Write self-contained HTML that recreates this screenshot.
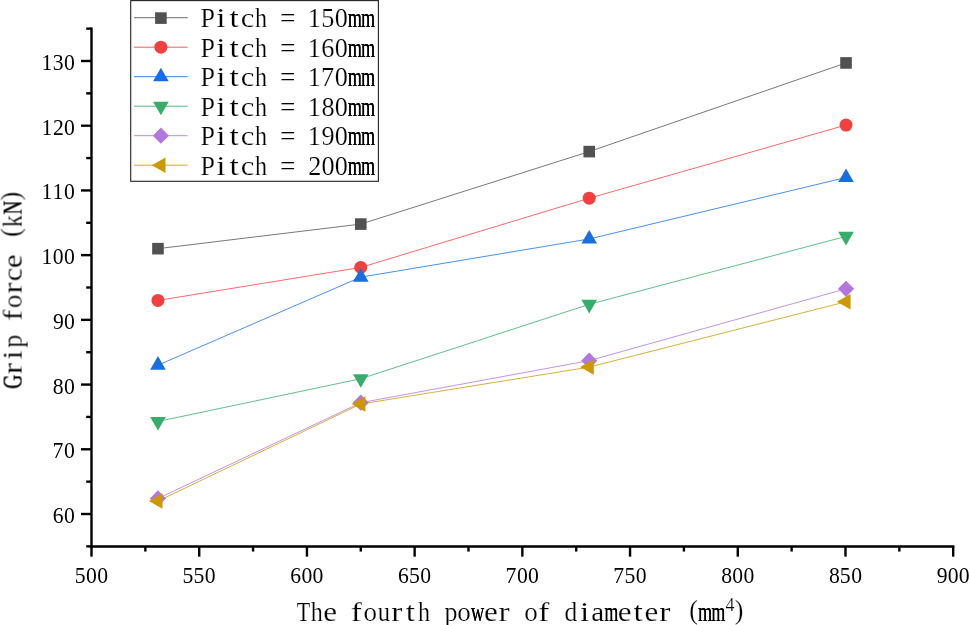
<!DOCTYPE html>
<html><head><meta charset="utf-8"><title>Grip force chart</title>
<style>html,body{margin:0;padding:0;background:#fff;}svg{display:block;}text{font-family:"Liberation Serif",serif;fill:#000;text-anchor:start;stroke:#fff;stroke-width:0.18px;}text.n{stroke:none;}</style></head><body>
<svg width="969" height="625" viewBox="0 0 969 625">
<rect width="969" height="625" fill="#fff"/>
<g style="will-change:transform">
<polyline points="157.96,248.67 360.78,224.08 589.24,151.6 846.03,62.94" fill="none" stroke="#515151" stroke-width="0.78"/>
<polyline points="157.96,300.44 360.78,267.44 589.24,198.19 846.03,125.07" fill="none" stroke="#F14040" stroke-width="0.78"/>
<polyline points="157.96,365.16 360.78,277.15 589.24,238.96 846.03,177.49" fill="none" stroke="#1A6FDF" stroke-width="0.78"/>
<polyline points="157.96,421.46 360.78,378.75 589.24,304.33 846.03,236.38" fill="none" stroke="#37AD6B" stroke-width="0.78"/>
<polyline points="157.96,498.47 360.78,402.69 589.24,360.63 846.03,288.79" fill="none" stroke="#B177DE" stroke-width="0.78"/>
<polyline points="157.96,501.06 360.78,403.99 589.24,367.1 846.03,301.74" fill="none" stroke="#CC9900" stroke-width="0.78"/>
<rect x="152.16" y="242.87" width="11.6" height="11.6" fill="#515151"/>
<rect x="354.98" y="218.28" width="11.6" height="11.6" fill="#515151"/>
<rect x="583.44" y="145.8" width="11.6" height="11.6" fill="#515151"/>
<rect x="840.23" y="57.14" width="11.6" height="11.6" fill="#515151"/>
<circle cx="157.96" cy="300.44" r="6.5" fill="#F14040"/>
<circle cx="360.78" cy="267.44" r="6.5" fill="#F14040"/>
<circle cx="589.24" cy="198.19" r="6.5" fill="#F14040"/>
<circle cx="846.03" cy="125.07" r="6.5" fill="#F14040"/>
<path d="M157.96 356.09L165.76 369.69L150.16 369.69Z" fill="#1A6FDF"/>
<path d="M360.78 268.08L368.58 281.68L352.98 281.68Z" fill="#1A6FDF"/>
<path d="M589.24 229.9L597.04 243.5L581.44 243.5Z" fill="#1A6FDF"/>
<path d="M846.03 168.42L853.83 182.02L838.23 182.02Z" fill="#1A6FDF"/>
<path d="M157.96 430.53L165.76 416.93L150.16 416.93Z" fill="#37AD6B"/>
<path d="M360.78 387.81L368.58 374.21L352.98 374.21Z" fill="#37AD6B"/>
<path d="M589.24 313.39L597.04 299.79L581.44 299.79Z" fill="#37AD6B"/>
<path d="M846.03 245.44L853.83 231.84L838.23 231.84Z" fill="#37AD6B"/>
<path d="M157.96 490.37L166.06 498.47L157.96 506.57L149.86 498.47Z" fill="#B177DE"/>
<path d="M360.78 394.59L368.88 402.69L360.78 410.79L352.68 402.69Z" fill="#B177DE"/>
<path d="M589.24 352.53L597.34 360.63L589.24 368.73L581.14 360.63Z" fill="#B177DE"/>
<path d="M846.03 280.69L854.13 288.79L846.03 296.89L837.93 288.79Z" fill="#B177DE"/>
<path d="M148.83 501.06L162.53 493.36L162.53 508.76Z" fill="#CC9900"/>
<path d="M351.65 403.99L365.35 396.29L365.35 411.69Z" fill="#CC9900"/>
<path d="M580.11 367.1L593.81 359.4L593.81 374.8Z" fill="#CC9900"/>
<path d="M836.89 301.74L850.59 294.04L850.59 309.44Z" fill="#CC9900"/>
<g stroke="#000" stroke-width="2.4" fill="none">
<line x1="91.5" y1="27.44" x2="91.5" y2="547.56"/>
<line x1="90.3" y1="546.51" x2="954.4" y2="546.51" stroke-width="2.7"/>
<line x1="86.2" y1="546.36" x2="91.5" y2="546.36"/>
<line x1="81" y1="514" x2="91.5" y2="514"/>
<line x1="86.2" y1="481.64" x2="91.5" y2="481.64"/>
<line x1="81" y1="449.29" x2="91.5" y2="449.29"/>
<line x1="86.2" y1="416.93" x2="91.5" y2="416.93"/>
<line x1="81" y1="384.57" x2="91.5" y2="384.57"/>
<line x1="86.2" y1="352.21" x2="91.5" y2="352.21"/>
<line x1="81" y1="319.86" x2="91.5" y2="319.86"/>
<line x1="86.2" y1="287.5" x2="91.5" y2="287.5"/>
<line x1="81" y1="255.14" x2="91.5" y2="255.14"/>
<line x1="86.2" y1="222.79" x2="91.5" y2="222.79"/>
<line x1="81" y1="190.43" x2="91.5" y2="190.43"/>
<line x1="86.2" y1="158.07" x2="91.5" y2="158.07"/>
<line x1="81" y1="125.71" x2="91.5" y2="125.71"/>
<line x1="86.2" y1="93.36" x2="91.5" y2="93.36"/>
<line x1="81" y1="61" x2="91.5" y2="61"/>
<line x1="86.2" y1="28.64" x2="91.5" y2="28.64"/>
<line x1="91.5" y1="546.36" x2="91.5" y2="556.66"/>
<line x1="145.36" y1="546.36" x2="145.36" y2="551.56"/>
<line x1="199.21" y1="546.36" x2="199.21" y2="556.66"/>
<line x1="253.07" y1="546.36" x2="253.07" y2="551.56"/>
<line x1="306.93" y1="546.36" x2="306.93" y2="556.66"/>
<line x1="360.78" y1="546.36" x2="360.78" y2="551.56"/>
<line x1="414.64" y1="546.36" x2="414.64" y2="556.66"/>
<line x1="468.49" y1="546.36" x2="468.49" y2="551.56"/>
<line x1="522.35" y1="546.36" x2="522.35" y2="556.66"/>
<line x1="576.21" y1="546.36" x2="576.21" y2="551.56"/>
<line x1="630.06" y1="546.36" x2="630.06" y2="556.66"/>
<line x1="683.92" y1="546.36" x2="683.92" y2="551.56"/>
<line x1="737.77" y1="546.36" x2="737.77" y2="556.66"/>
<line x1="791.63" y1="546.36" x2="791.63" y2="551.56"/>
<line x1="845.49" y1="546.36" x2="845.49" y2="556.66"/>
<line x1="899.34" y1="546.36" x2="899.34" y2="551.56"/>
<line x1="953.2" y1="546.36" x2="953.2" y2="556.66"/>
</g>
<g>
<text class="n" transform="translate(52.73 523) scale(0.98 1.02)" font-size="22.14">6</text>
<text class="n" transform="translate(63.94 523) scale(0.98 1.02)" font-size="22.14">0</text>
<text class="n" transform="translate(52.47 458.29) scale(0.98 1.02)" font-size="22.14">7</text>
<text class="n" transform="translate(63.94 458.29) scale(0.98 1.02)" font-size="22.14">0</text>
<text class="n" transform="translate(52.87 393.57) scale(0.98 1.02)" font-size="22.14">8</text>
<text class="n" transform="translate(63.94 393.57) scale(0.98 1.02)" font-size="22.14">0</text>
<text class="n" transform="translate(52.97 328.86) scale(0.98 1.02)" font-size="22.14">9</text>
<text class="n" transform="translate(63.94 328.86) scale(0.98 1.02)" font-size="22.14">0</text>
<text class="n" transform="translate(41.5 264.14) scale(0.98 1.02)" font-size="22.14">1</text>
<text class="n" transform="translate(52.87 264.14) scale(0.98 1.02)" font-size="22.14">0</text>
<text class="n" transform="translate(63.94 264.14) scale(0.98 1.02)" font-size="22.14">0</text>
<text class="n" transform="translate(41.5 199.43) scale(0.98 1.02)" font-size="22.14">1</text>
<text class="n" transform="translate(52.57 199.43) scale(0.98 1.02)" font-size="22.14">1</text>
<text class="n" transform="translate(63.94 199.43) scale(0.98 1.02)" font-size="22.14">0</text>
<text class="n" transform="translate(41.5 134.71) scale(0.98 1.02)" font-size="22.14">1</text>
<text class="n" transform="translate(52.99 134.71) scale(0.98 1.02)" font-size="22.14">2</text>
<text class="n" transform="translate(63.94 134.71) scale(0.98 1.02)" font-size="22.14">0</text>
<text class="n" transform="translate(41.5 70) scale(0.98 1.02)" font-size="22.14">1</text>
<text class="n" transform="translate(52.78 70) scale(0.98 1.02)" font-size="22.14">3</text>
<text class="n" transform="translate(63.94 70) scale(0.98 1.02)" font-size="22.14">0</text>
<text class="n" transform="translate(74.8 582.65) scale(0.98 1.02)" font-size="22.14">5</text>
<text class="n" transform="translate(86.08 582.65) scale(0.98 1.02)" font-size="22.14">0</text>
<text class="n" transform="translate(97.15 582.65) scale(0.98 1.02)" font-size="22.14">0</text>
<text class="n" transform="translate(182.51 582.65) scale(0.98 1.02)" font-size="22.14">5</text>
<text class="n" transform="translate(193.58 582.65) scale(0.98 1.02)" font-size="22.14">5</text>
<text class="n" transform="translate(204.86 582.65) scale(0.98 1.02)" font-size="22.14">0</text>
<text class="n" transform="translate(290.29 582.65) scale(0.98 1.02)" font-size="22.14">6</text>
<text class="n" transform="translate(301.5 582.65) scale(0.98 1.02)" font-size="22.14">0</text>
<text class="n" transform="translate(312.57 582.65) scale(0.98 1.02)" font-size="22.14">0</text>
<text class="n" transform="translate(398 582.65) scale(0.98 1.02)" font-size="22.14">6</text>
<text class="n" transform="translate(409.01 582.65) scale(0.98 1.02)" font-size="22.14">5</text>
<text class="n" transform="translate(420.28 582.65) scale(0.98 1.02)" font-size="22.14">0</text>
<text class="n" transform="translate(505.45 582.65) scale(0.98 1.02)" font-size="22.14">7</text>
<text class="n" transform="translate(516.93 582.65) scale(0.98 1.02)" font-size="22.14">0</text>
<text class="n" transform="translate(528 582.65) scale(0.98 1.02)" font-size="22.14">0</text>
<text class="n" transform="translate(613.17 582.65) scale(0.98 1.02)" font-size="22.14">7</text>
<text class="n" transform="translate(624.43 582.65) scale(0.98 1.02)" font-size="22.14">5</text>
<text class="n" transform="translate(635.71 582.65) scale(0.98 1.02)" font-size="22.14">0</text>
<text class="n" transform="translate(721.28 582.65) scale(0.98 1.02)" font-size="22.14">8</text>
<text class="n" transform="translate(732.35 582.65) scale(0.98 1.02)" font-size="22.14">0</text>
<text class="n" transform="translate(743.42 582.65) scale(0.98 1.02)" font-size="22.14">0</text>
<text class="n" transform="translate(828.99 582.65) scale(0.98 1.02)" font-size="22.14">8</text>
<text class="n" transform="translate(839.86 582.65) scale(0.98 1.02)" font-size="22.14">5</text>
<text class="n" transform="translate(851.13 582.65) scale(0.98 1.02)" font-size="22.14">0</text>
<text class="n" transform="translate(936.8 582.65) scale(0.98 1.02)" font-size="22.14">9</text>
<text class="n" transform="translate(947.78 582.65) scale(0.98 1.02)" font-size="22.14">0</text>
<text class="n" transform="translate(958.85 582.65) scale(0.98 1.02)" font-size="22.14">0</text>
</g>
<g>
<text transform="translate(296.64 621) scale(0.82 1.03)" font-size="26.78">T</text>
<text transform="translate(310.79 621) scale(0.9 1.03)" font-size="26.78">h</text>
<text transform="translate(323.2 621) scale(1.16 1.03)" font-size="26.78">e</text>
<text transform="translate(350.87 621) scale(1.25 1.03)" font-size="26.78">f</text>
<text transform="translate(363.55 621) scale(1.01 1.03)" font-size="26.78">o</text>
<text transform="translate(377.65 621) scale(0.92 1.03)" font-size="26.78">u</text>
<text transform="translate(391.36 621) scale(1.25 1.03)" font-size="26.78">r</text>
<text transform="translate(405.8 621) scale(1.25 1.03)" font-size="26.78">t</text>
<text transform="translate(417.91 621) scale(0.9 1.03)" font-size="26.78">h</text>
<text transform="translate(444.51 621) scale(0.97 1.03)" font-size="26.78">p</text>
<text transform="translate(457.28 621) scale(1.01 1.03)" font-size="26.78">o</text>
<text class="n" transform="translate(470.71 621) scale(0.69 1.03)" font-size="26.78">w</text>
<text class="n" transform="translate(470.93 621) scale(0.69 1.03)" font-size="26.78">w</text>
<text transform="translate(483.88 621) scale(1.16 1.03)" font-size="26.78">e</text>
<text transform="translate(498.48 621) scale(1.25 1.03)" font-size="26.78">r</text>
<text transform="translate(524.23 621) scale(1.01 1.03)" font-size="26.78">o</text>
<text transform="translate(538.33 621) scale(1.25 1.03)" font-size="26.78">f</text>
<text transform="translate(564.52 621) scale(0.95 1.03)" font-size="26.78">d</text>
<text transform="translate(579.9 621) scale(1.25 1.03)" font-size="26.78">i</text>
<text transform="translate(591.19 621) scale(1.09 1.03)" font-size="26.78">a</text>
<text class="n" transform="translate(604.25 621) scale(0.67 1.03)" font-size="26.78">m</text>
<text class="n" transform="translate(604.47 621) scale(0.67 1.03)" font-size="26.78">m</text>
<text transform="translate(617.78 621) scale(1.16 1.03)" font-size="26.78">e</text>
<text transform="translate(633.43 621) scale(1.25 1.03)" font-size="26.78">t</text>
<text transform="translate(644.56 621) scale(1.16 1.03)" font-size="26.78">e</text>
<text transform="translate(659.16 621) scale(1.25 1.03)" font-size="26.78">r</text>
<text transform="translate(689.21 618.6) scale(0.97 1)" font-size="26.78">(</text>
<text class="n" transform="translate(697.98 621) scale(0.67 1.03)" font-size="26.78">m</text>
<text class="n" transform="translate(698.2 621) scale(0.67 1.03)" font-size="26.78">m</text>
<text class="n" transform="translate(711.37 621) scale(0.67 1.03)" font-size="26.78">m</text>
<text class="n" transform="translate(711.59 621) scale(0.67 1.03)" font-size="26.78">m</text>
<text x="725.48" y="611" font-size="17.9">4</text>
<text transform="translate(734.79 618.6) scale(0.97 1)" font-size="26.78">)</text>
</g>
<g transform="translate(21.6 388.4) rotate(-90)">
<text class="n" transform="translate(-0.58 0) scale(0.73 1.03)" font-size="26.78">G</text>
<text class="n" transform="translate(-0.36 0) scale(0.73 1.03)" font-size="26.78">G</text>
<text transform="translate(14.32 0) scale(1.25 1.03)" font-size="26.78">r</text>
<text transform="translate(28.79 0) scale(1.25 1.03)" font-size="26.78">i</text>
<text transform="translate(40.69 0) scale(0.97 1.03)" font-size="26.78">p</text>
<text transform="translate(67.56 0) scale(1.25 1.03)" font-size="26.78">f</text>
<text transform="translate(80.24 0) scale(1.01 1.03)" font-size="26.78">o</text>
<text transform="translate(94.66 0) scale(1.25 1.03)" font-size="26.78">r</text>
<text transform="translate(106.89 0) scale(1.15 1.03)" font-size="26.78">c</text>
<text transform="translate(120.23 0) scale(1.16 1.03)" font-size="26.78">e</text>
<text transform="translate(151.49 -2.4) scale(0.97 1)" font-size="26.78">(</text>
<text transform="translate(161.16 0) scale(0.89 1.03)" font-size="26.78">k</text>
<text class="n" transform="translate(173.75 0) scale(0.71 1.03)" font-size="26.78">N</text>
<text class="n" transform="translate(173.97 0) scale(0.71 1.03)" font-size="26.78">N</text>
<text transform="translate(187.97 -2.4) scale(0.97 1)" font-size="26.78">)</text>
</g>
<rect x="130.7" y="0.6" width="247.7" height="180.7" fill="none" stroke="#222" stroke-width="1.1"/>
<line x1="134" y1="17.7" x2="187.7" y2="17.7" stroke="#515151" stroke-width="0.85"/>
<rect x="155.1" y="12.3" width="11.6" height="11.6" fill="#515151"/>
<text transform="translate(200.38 27) scale(0.97 1.03)" font-size="26.78">P</text>
<text transform="translate(216.2 27) scale(1.25 1.03)" font-size="26.78">i</text>
<text transform="translate(229.56 27) scale(1.25 1.03)" font-size="26.78">t</text>
<text transform="translate(240.74 27) scale(1.15 1.03)" font-size="26.78">c</text>
<text transform="translate(255.06 27) scale(0.9 1.03)" font-size="26.78">h</text>
<text transform="translate(280.11 27) scale(1.02 1.03)" font-size="26.78">=</text>
<text transform="translate(307.69 27) scale(0.98 1.05)" font-size="26.78">1</text>
<text transform="translate(321.19 27) scale(0.98 1.05)" font-size="26.78">5</text>
<text transform="translate(334.83 27) scale(0.98 1.05)" font-size="26.78">0</text>
<text class="n" transform="translate(347.67 27) scale(0.67 1.03)" font-size="26.78">m</text>
<text class="n" transform="translate(347.89 27) scale(0.67 1.03)" font-size="26.78">m</text>
<text class="n" transform="translate(361.06 27) scale(0.67 1.03)" font-size="26.78">m</text>
<text class="n" transform="translate(361.28 27) scale(0.67 1.03)" font-size="26.78">m</text>
<line x1="134" y1="47.2" x2="187.7" y2="47.2" stroke="#F14040" stroke-width="0.85"/>
<circle cx="160.9" cy="47.2" r="6.5" fill="#F14040"/>
<text transform="translate(200.38 56.5) scale(0.97 1.03)" font-size="26.78">P</text>
<text transform="translate(216.2 56.5) scale(1.25 1.03)" font-size="26.78">i</text>
<text transform="translate(229.56 56.5) scale(1.25 1.03)" font-size="26.78">t</text>
<text transform="translate(240.74 56.5) scale(1.15 1.03)" font-size="26.78">c</text>
<text transform="translate(255.06 56.5) scale(0.9 1.03)" font-size="26.78">h</text>
<text transform="translate(280.11 56.5) scale(1.02 1.03)" font-size="26.78">=</text>
<text transform="translate(307.69 56.5) scale(0.98 1.05)" font-size="26.78">1</text>
<text transform="translate(321.27 56.5) scale(0.98 1.05)" font-size="26.78">6</text>
<text transform="translate(334.83 56.5) scale(0.98 1.05)" font-size="26.78">0</text>
<text class="n" transform="translate(347.67 56.5) scale(0.67 1.03)" font-size="26.78">m</text>
<text class="n" transform="translate(347.89 56.5) scale(0.67 1.03)" font-size="26.78">m</text>
<text class="n" transform="translate(361.06 56.5) scale(0.67 1.03)" font-size="26.78">m</text>
<text class="n" transform="translate(361.28 56.5) scale(0.67 1.03)" font-size="26.78">m</text>
<line x1="134" y1="76.7" x2="187.7" y2="76.7" stroke="#1A6FDF" stroke-width="0.85"/>
<path d="M160.9 67.63L168.7 81.23L153.1 81.23Z" fill="#1A6FDF"/>
<text transform="translate(200.38 86) scale(0.97 1.03)" font-size="26.78">P</text>
<text transform="translate(216.2 86) scale(1.25 1.03)" font-size="26.78">i</text>
<text transform="translate(229.56 86) scale(1.25 1.03)" font-size="26.78">t</text>
<text transform="translate(240.74 86) scale(1.15 1.03)" font-size="26.78">c</text>
<text transform="translate(255.06 86) scale(0.9 1.03)" font-size="26.78">h</text>
<text transform="translate(280.11 86) scale(1.02 1.03)" font-size="26.78">=</text>
<text transform="translate(307.69 86) scale(0.98 1.05)" font-size="26.78">1</text>
<text transform="translate(320.96 86) scale(0.98 1.05)" font-size="26.78">7</text>
<text transform="translate(334.83 86) scale(0.98 1.05)" font-size="26.78">0</text>
<text class="n" transform="translate(347.67 86) scale(0.67 1.03)" font-size="26.78">m</text>
<text class="n" transform="translate(347.89 86) scale(0.67 1.03)" font-size="26.78">m</text>
<text class="n" transform="translate(361.06 86) scale(0.67 1.03)" font-size="26.78">m</text>
<text class="n" transform="translate(361.28 86) scale(0.67 1.03)" font-size="26.78">m</text>
<line x1="134" y1="106.2" x2="187.7" y2="106.2" stroke="#37AD6B" stroke-width="0.85"/>
<path d="M160.9 115.27L168.7 101.67L153.1 101.67Z" fill="#37AD6B"/>
<text transform="translate(200.38 115.5) scale(0.97 1.03)" font-size="26.78">P</text>
<text transform="translate(216.2 115.5) scale(1.25 1.03)" font-size="26.78">i</text>
<text transform="translate(229.56 115.5) scale(1.25 1.03)" font-size="26.78">t</text>
<text transform="translate(240.74 115.5) scale(1.15 1.03)" font-size="26.78">c</text>
<text transform="translate(255.06 115.5) scale(0.9 1.03)" font-size="26.78">h</text>
<text transform="translate(280.11 115.5) scale(1.02 1.03)" font-size="26.78">=</text>
<text transform="translate(307.69 115.5) scale(0.98 1.05)" font-size="26.78">1</text>
<text transform="translate(321.44 115.5) scale(0.98 1.05)" font-size="26.78">8</text>
<text transform="translate(334.83 115.5) scale(0.98 1.05)" font-size="26.78">0</text>
<text class="n" transform="translate(347.67 115.5) scale(0.67 1.03)" font-size="26.78">m</text>
<text class="n" transform="translate(347.89 115.5) scale(0.67 1.03)" font-size="26.78">m</text>
<text class="n" transform="translate(361.06 115.5) scale(0.67 1.03)" font-size="26.78">m</text>
<text class="n" transform="translate(361.28 115.5) scale(0.67 1.03)" font-size="26.78">m</text>
<line x1="134" y1="135.7" x2="187.7" y2="135.7" stroke="#B177DE" stroke-width="0.85"/>
<path d="M160.9 127.6L169 135.7L160.9 143.8L152.8 135.7Z" fill="#B177DE"/>
<text transform="translate(200.38 145) scale(0.97 1.03)" font-size="26.78">P</text>
<text transform="translate(216.2 145) scale(1.25 1.03)" font-size="26.78">i</text>
<text transform="translate(229.56 145) scale(1.25 1.03)" font-size="26.78">t</text>
<text transform="translate(240.74 145) scale(1.15 1.03)" font-size="26.78">c</text>
<text transform="translate(255.06 145) scale(0.9 1.03)" font-size="26.78">h</text>
<text transform="translate(280.11 145) scale(1.02 1.03)" font-size="26.78">=</text>
<text transform="translate(307.69 145) scale(0.98 1.05)" font-size="26.78">1</text>
<text transform="translate(321.56 145) scale(0.98 1.05)" font-size="26.78">9</text>
<text transform="translate(334.83 145) scale(0.98 1.05)" font-size="26.78">0</text>
<text class="n" transform="translate(347.67 145) scale(0.67 1.03)" font-size="26.78">m</text>
<text class="n" transform="translate(347.89 145) scale(0.67 1.03)" font-size="26.78">m</text>
<text class="n" transform="translate(361.06 145) scale(0.67 1.03)" font-size="26.78">m</text>
<text class="n" transform="translate(361.28 145) scale(0.67 1.03)" font-size="26.78">m</text>
<line x1="134" y1="165.2" x2="187.7" y2="165.2" stroke="#CC9900" stroke-width="0.85"/>
<path d="M151.77 165.2L165.47 157.5L165.47 172.9Z" fill="#CC9900"/>
<text transform="translate(200.38 174.5) scale(0.97 1.03)" font-size="26.78">P</text>
<text transform="translate(216.2 174.5) scale(1.25 1.03)" font-size="26.78">i</text>
<text transform="translate(229.56 174.5) scale(1.25 1.03)" font-size="26.78">t</text>
<text transform="translate(240.74 174.5) scale(1.15 1.03)" font-size="26.78">c</text>
<text transform="translate(255.06 174.5) scale(0.9 1.03)" font-size="26.78">h</text>
<text transform="translate(280.11 174.5) scale(1.02 1.03)" font-size="26.78">=</text>
<text transform="translate(308.2 174.5) scale(0.98 1.05)" font-size="26.78">2</text>
<text transform="translate(321.44 174.5) scale(0.98 1.05)" font-size="26.78">0</text>
<text transform="translate(334.83 174.5) scale(0.98 1.05)" font-size="26.78">0</text>
<text class="n" transform="translate(347.67 174.5) scale(0.67 1.03)" font-size="26.78">m</text>
<text class="n" transform="translate(347.89 174.5) scale(0.67 1.03)" font-size="26.78">m</text>
<text class="n" transform="translate(361.06 174.5) scale(0.67 1.03)" font-size="26.78">m</text>
<text class="n" transform="translate(361.28 174.5) scale(0.67 1.03)" font-size="26.78">m</text>
</g>
</svg></body></html>
